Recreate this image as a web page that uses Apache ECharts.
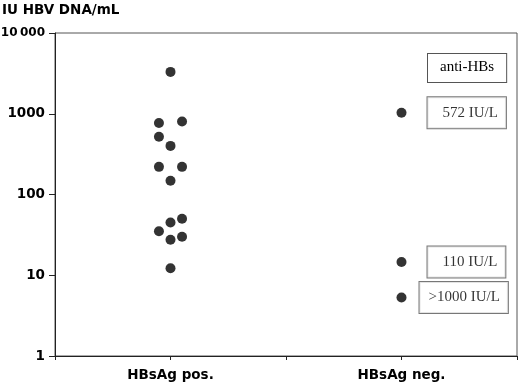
<!DOCTYPE html>
<html>
<head>
<meta charset="utf-8">
<script src="https://cdn.jsdelivr.net/npm/echarts@6/dist/echarts.min.js"></script>
<style>
  html, body { margin: 0; padding: 0; background: #fff; }
  #chart { width: 520px; height: 386px; }
</style>
</head>
<body>
<div id="chart"></div>
<script>
// groups on the x axis (value 1 and 2)
const groups = ['HBsAg pos.', 'HBsAg neg.']
const yTicks = [1, 10, 100, 1000, 10000]

// HBsAg positive: HBV DNA (IU/mL) and horizontal jitter
const posValues = [3300, 770, 800, 520, 400, 220, 220, 148, 50, 45, 35, 27.5, 30, 12.2]
const posJitter = [0, -0.05, 0.05, -0.05, 0, -0.05, 0.05, 0, 0.05, 0, -0.05, 0, 0.05, 0]

// HBsAg negative: HBV DNA and anti-HBs titre
const negValues = [1030, 14.6, 5.3]
const negJitter = [0, 0, 0]
const negLabels = ['572 IU/L', '110 IU/L', '>1000 IU/L']

const serif = '"Liberation Serif", "Times New Roman", serif'
const sans = '"DejaVu Sans", Arial, sans-serif'

const chart = echarts.init(document.getElementById('chart'))

const boxLabel = {
  fontFamily: serif,
  fontSize: 15,
  lineHeight: 17,
  color: '#000',
  backgroundColor: '#fff',
  borderColor: '#555',
  borderWidth: 1,
  padding: [7, 8, 7, 15]
}

const option = {
  animation: false,
  grid: {
    left: 55, top: 33, right: 3, bottom: 30,
    outerBoundsMode: 'none',
    containLabel: false,
    show: true, borderColor: '#555', borderWidth: 1
  },
  title: {
    text: 'IU HBV DNA/mL',
    left: 2, top: 3, padding: 0,
    textStyle: { fontFamily: sans, fontSize: 13.5, fontWeight: 'bold', color: '#000' }
  },
  xAxis: {
    type: 'value',
    min: 0.5, max: 2.5, interval: 0.5,
    splitLine: { show: false },
    axisLine: { lineStyle: { color: '#222', width: 1 } },
    axisTick: { show: true, length: 4, lineStyle: { color: '#222' } },
    axisLabel: {
      margin: 12,
      fontFamily: sans, fontSize: 13.5, fontWeight: 'bold', color: '#000',
      formatter: v => (Number.isInteger(v) && groups[v - 1]) ? groups[v - 1] : ''
    }
  },
  yAxis: {
    type: 'log',
    logBase: 10,
    min: yTicks[0], max: yTicks[yTicks.length - 1],
    splitLine: { show: false },
    minorTick: { show: false },
    axisLine: { show: true, lineStyle: { color: '#222', width: 1 } },
    axisTick: { show: true, length: 6, lineStyle: { color: '#222' } },
    axisLabel: {
      margin: 10,
      fontFamily: sans, fontSize: 13.5, fontWeight: 'bold', color: '#000',
      formatter: v => v >= 10000 ? '{s|' + String(v).replace(/(\d{2})(\d{3})$/, '$1\u2009$2') + '}' : String(v),
      rich: { s: { fontFamily: sans, fontSize: 12, fontWeight: 'bold', color: '#000' } }
    }
  },
  graphic: [{
    type: 'text',
    left: 427, top: 53,
    style: {
      text: 'anti-HBs',
      font: '15px ' + serif,
      fill: '#000',
      backgroundColor: '#fff',
      borderColor: '#555',
      borderWidth: 1,
      padding: [6, 12, 7, 12]
    }
  }],
  series: [
    {
      name: groups[0],
      type: 'scatter',
      symbolSize: 10,
      itemStyle: { color: '#000' },
      data: posValues.map((v, i) => [1 + posJitter[i], v])
    },
    {
      name: groups[1],
      type: 'scatter',
      symbolSize: 10,
      itemStyle: { color: '#000' },
      data: negValues.map((v, i) => ({
        value: [2 + negJitter[i], v],
        label: Object.assign({
          show: true,
          position: 'right',
          distance: i === 2 ? 13 : 21,
          formatter: negLabels[i]
        }, boxLabel, i === 2 ? { padding: [7, 8, 7, 9] } : {})
      }))
    }
  ]
}

chart.setOption(option)
</script>
</body>
</html>
